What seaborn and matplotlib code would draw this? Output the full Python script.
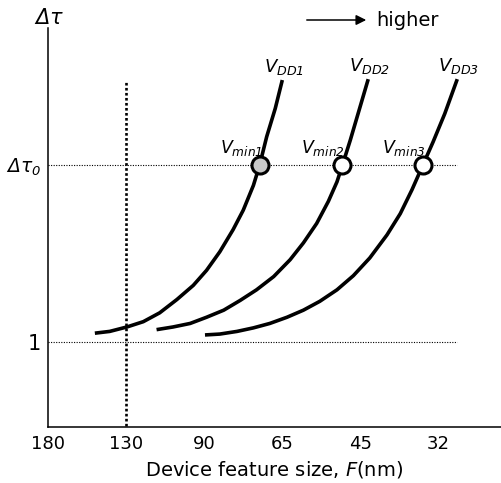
import matplotlib
matplotlib.use("Agg")
import matplotlib.pyplot as plt
from matplotlib.patches import FancyArrowPatch
import seaborn as sns
import pandas as pd

# Technology nodes (nm), evenly spaced along the x axis
node_labels = ["180", "130", "90", "65", "45", "32"]
node_pos = [0, 1, 2, 3, 4, 5]

# Delay-variation curves for three supply voltages (x in node units, y in Δτ units)
vdd1_x = [0.60, 0.79, 1.01, 1.22, 1.43, 1.65, 1.86, 2.03, 2.20, 2.37, 2.50, 2.63, 2.71, 2.80, 2.91, 3.00]
vdd1_y = [1.10, 1.12, 1.17, 1.23, 1.33, 1.48, 1.64, 1.81, 2.02, 2.27, 2.49, 2.77, 3.00, 3.32, 3.64, 3.96]

vdd2_x = [1.39, 1.60, 1.82, 2.03, 2.25, 2.46, 2.67, 2.89, 3.10, 3.27, 3.44, 3.59, 3.70, 3.77, 3.87, 3.97, 4.10]
vdd2_y = [1.14, 1.17, 1.21, 1.28, 1.36, 1.47, 1.59, 1.74, 1.93, 2.12, 2.34, 2.59, 2.81, 3.00, 3.28, 3.58, 3.97]

vdd3_x = [2.01, 2.20, 2.42, 2.63, 2.84, 3.06, 3.27, 3.48, 3.70, 3.91, 4.12, 4.34, 4.51, 4.66, 4.80, 4.93, 5.08, 5.24]
vdd3_y = [1.08, 1.09, 1.12, 1.16, 1.21, 1.28, 1.36, 1.46, 1.59, 1.75, 1.95, 2.21, 2.45, 2.72, 3.00, 3.26, 3.58, 3.97]

curve_names = ["DD1", "DD2", "DD3"]
vmin_names = ["min1", "min2", "min3"]
vmin_x = [2.71, 3.77, 4.80]
tau0 = 3.0
tau_one = 1.0
ref_node = 1  # 130 nm

sns.set_theme(style="white")
plt.rcParams["font.family"] = ["DejaVu Sans"]
# all math symbols set in the oblique face
plt.rcParams["mathtext.fontset"] = "custom"
plt.rcParams["mathtext.rm"] = "DejaVu Sans:italic"
plt.rcParams["mathtext.it"] = "DejaVu Sans:italic"
plt.rcParams["text.color"] = "black"
plt.rcParams["axes.labelcolor"] = "black"
plt.rcParams["xtick.color"] = "black"
plt.rcParams["ytick.color"] = "black"

fig = plt.figure(figsize=(5.01, 4.83), dpi=100)
ax = fig.add_axes([48 / 501, 56 / 483, 453 / 501, 399 / 483])

frames = []
for name, xs, ys in zip(curve_names, [vdd1_x, vdd2_x, vdd3_x], [vdd1_y, vdd2_y, vdd3_y]):
    frames.append(pd.DataFrame({"x": xs, "y": ys, "curve": name}))
df = pd.concat(frames, ignore_index=True)

# Reference lines
ax.plot([0, 5.24], [tau0, tau0], color="black", lw=0.8, ls=(0, (1, 1.3)), zorder=1)
ax.plot([0, 5.24], [tau_one, tau_one], color="black", lw=0.8, ls=(0, (1, 1.3)), zorder=1)
ax.plot([ref_node, ref_node], [0.0, 3.95], color="black", lw=1.9, ls=(0, (1, 0.9)), zorder=1)

sns.lineplot(data=df, x="x", y="y", units="curve", estimator=None, sort=False,
             color="black", lw=2.6, ax=ax, zorder=2, legend=False,
             solid_capstyle="butt", solid_joinstyle="round")

faces = ["#c8c8c8", "white", "white"]
for xv, fc in zip(vmin_x, faces):
    sns.scatterplot(x=[xv], y=[tau0], s=150, color=fc, edgecolor="black",
                    linewidth=2.2, ax=ax, zorder=4, legend=False)

# Curve labels
for name, xs, ys in zip(curve_names, [vdd1_x, vdd2_x, vdd3_x], [vdd1_y, vdd2_y, vdd3_y]):
    ax.annotate(r"$V_{" + name + "}$", (xs[-1], ys[-1]), xytext=(1, 2),
                textcoords="offset points", ha="center", va="bottom", fontsize=13)
for name, xv in zip(vmin_names, vmin_x):
    ax.annotate(r"$V_{" + name + "}$", (xv, tau0), xytext=(2, 5),
                textcoords="offset points", ha="right", va="bottom", fontsize=12.5)

ax.set_xlim(0, 5.8)
ax.set_ylim(0.04, 4.548)
ax.set_xticks(node_pos)
ax.set_xticklabels(node_labels, fontsize=13)
ax.set_yticks([tau_one, tau0])
ax.set_yticklabels(["1", r"$\Delta\tau_0$"], fontsize=15)
ax.get_yticklabels()[1].set_fontsize(13.5)
ax.tick_params(axis="x", direction="in", length=6, width=1.1, color="black", pad=6)
ax.tick_params(axis="y", length=0, pad=5)
ax.set_xlabel(r"Device feature size, $F$(nm)", fontsize=14, labelpad=4)
ax.set_ylabel("")

for side in ["top", "right"]:
    ax.spines[side].set_visible(False)
for side in ["left", "bottom"]:
    ax.spines[side].set_color("black")
    ax.spines[side].set_linewidth(1.1)

fig.text(49 / 501, 1 - 18 / 483, r"$\Delta\tau$", fontsize=15,
         ha="center", va="center")

# "higher" arrow
fig.patches.append(FancyArrowPatch(
    (304 / 501, 1 - 20 / 483), (369 / 501, 1 - 20 / 483), transform=fig.transFigure,
    arrowstyle="-|>,head_length=6,head_width=3", color="black", lw=1.1))
fig.text(376 / 501, 1 - 20 / 483, "higher", fontsize=14, ha="left", va="center")

fig.savefig("out.png", dpi=100)
